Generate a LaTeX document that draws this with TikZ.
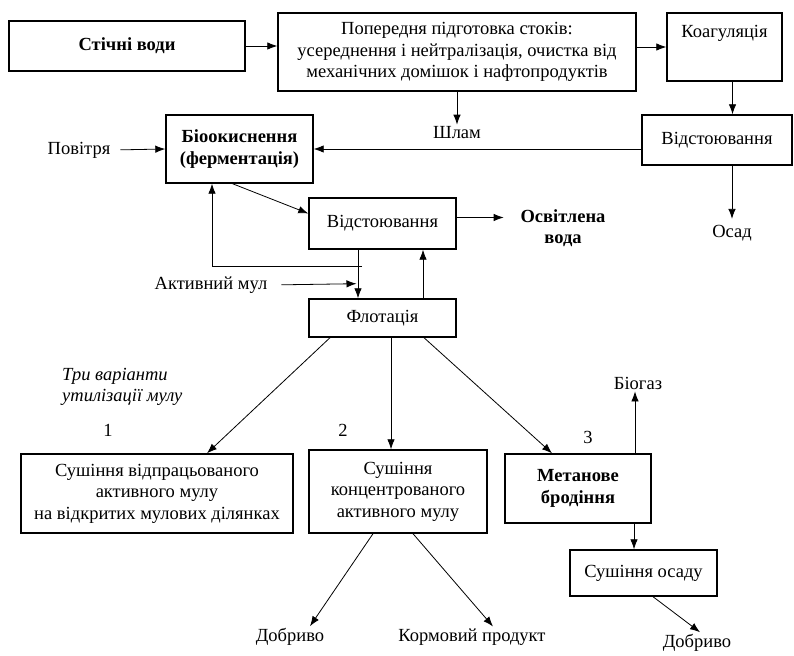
\documentclass[tikz,border=0pt]{standalone}
\usepackage{fontspec}
\setmainfont{Liberation Serif}
\usepackage{tikz}
\usetikzlibrary{arrows.meta}

\begin{document}
\begin{tikzpicture}
  [x=1pt,y=-1pt,>={Latex[length=10pt,width=7.5pt]},
   every node/.style={font=\fontsize{18.5}{21.5}\selectfont,align=center,inner sep=2pt},
   box/.style={draw,line width=1.4pt,inner sep=0pt},
   flow/.style={->,line width=0.8pt}]
  \useasboundingbox (0,0) rectangle (794,655);

  % boxes
  \node[box,minimum width=236pt,minimum height=50pt] (nw) at (127,46) {\bfseries Стічні води};
  \node[box,minimum width=358pt,minimum height=78pt] (np) at (457,52)
    {Попередня підготовка стоків:\\усереднення і нейтралізація, очистка від\\механічних домішок і нафтопродуктів};
  \node[box,minimum width=115pt,text height=21pt,text depth=39pt,inner ysep=4pt] (nk) at (724.5,47) {Коагуляція};
  \node[box,minimum width=147pt,minimum height=68pt] (nb) at (239.5,149) {\bfseries Біоокиснення\\\bfseries(ферментація)};
  \node[box,minimum width=150pt,minimum height=50pt] (nv) at (717,140) {Відстоювання};
  \node[box,minimum width=147pt,minimum height=51pt] (ns) at (382.5,223.5) {Відстоювання};
  \node[box,minimum width=147pt,minimum height=38pt] (nf) at (382.5,318) {Флотація};
  \node[box,minimum width=272pt,minimum height=79pt] (nd) at (157,493.5)
    {Сушіння відпрацьованого\\активного мулу\\на відкритих мулових ділянках};
  \node[box,minimum width=178pt,minimum height=83pt] (nc) at (398,491.5)
    {Сушіння\\концентрованого\\активного мулу};
  \node[box,minimum width=146pt,minimum height=69pt] (nm) at (578,488.5) {\bfseries Метанове\\\bfseries бродіння};
  \node[box,minimum width=147pt,minimum height=46pt] (no) at (643.5,573) {Сушіння осаду};

  % labels
  \node (na) at (79,150) {Повітря};
  \node (nsl) at (457,133) {Шлам};
  \node (nw2) at (563,228) {\bfseries Освітлена\\\bfseries вода};
  \node (nos) at (732,233) {Осад};
  \node (nam) at (211,285) {Активний мул};
  \node[anchor=west,font=\fontsize{18.5}{21.5}\selectfont\itshape,align=left] (nt) at (60,387) {Три варіанти\\утилізації мулу};
  \node (n1) at (108,430) {1};
  \node (n2) at (343,430) {2};
  \node (n3) at (588,437) {3};
  \node (ng) at (638,383) {Біогаз};
  \node (nd1) at (290,637) {Добриво};
  \node (nkp) at (472,637) {Кормовий продукт};
  \node (nd2) at (697,643) {Добриво};

  % connectors
  \draw[flow] (nw.east) -- (nw.east -| np.west);
  \draw[flow] (np.east |- nk.west) -- (nk.west);
  \draw[flow] (np.south) -- (nsl.north);
  \draw[flow] ([xshift=8pt]nk.south) -- ([xshift=8pt]nk.south |- nv.north);
  \draw[flow,shorten >=4pt] ([xshift=15pt]nv.south) -- ([xshift=15pt]nv.south |- nos.north);
  \draw[flow] (nv.west |- nb.east) -- (nb.east);
  \draw[flow,shorten <=8pt] (na.east) -- (nb.west);
  \draw[flow] ([xshift=-7pt]nb.south) -- ([yshift=10pt]ns.west);
  \draw[flow] ([yshift=6pt]ns.east) -- ([yshift=6pt,xshift=47pt]ns.east);
  \draw[flow] ([xshift=-24.5pt]ns.south) -- ([xshift=-24.5pt]nf.north);
  \draw[flow] ([xshift=-20.5pt,yshift=-17pt]ns.south) -| ([xshift=-27.5pt]nb.south);
  \draw[flow,shorten <=12pt] (nam.east) -- ([xshift=-26pt,yshift=-34pt]ns.south);
  \draw[flow] ([xshift=40.5pt]nf.north) -- ([xshift=40.5pt]ns.south);
  \draw[flow] ([xshift=-52.5pt]nf.south) -- ([xshift=50pt]nd.north);
  \draw[flow] ([xshift=8.5pt]nf.south) -- ([xshift=8.5pt]nf.south |- nc.north);
  \draw[flow] ([xshift=41.5pt]nf.south) -- ([xshift=-26pt]nm.north);
  \draw[flow] ([xshift=57pt]nm.north) -- ([xshift=57pt]nm.north |- ng.south);
  \draw[flow] ([xshift=56pt]nm.south) -- ([xshift=56pt]nm.south |- no.north);
  \draw[flow] ([xshift=9.5pt]no.south) -- ([xshift=3pt]nd2.north);
  \draw[flow] ([xshift=-25pt]nc.south) -- ([xshift=20pt]nd1.north);
  \draw[flow] ([xshift=15pt]nc.south) -- ([xshift=21pt]nkp.north);

\end{tikzpicture}
\end{document}
